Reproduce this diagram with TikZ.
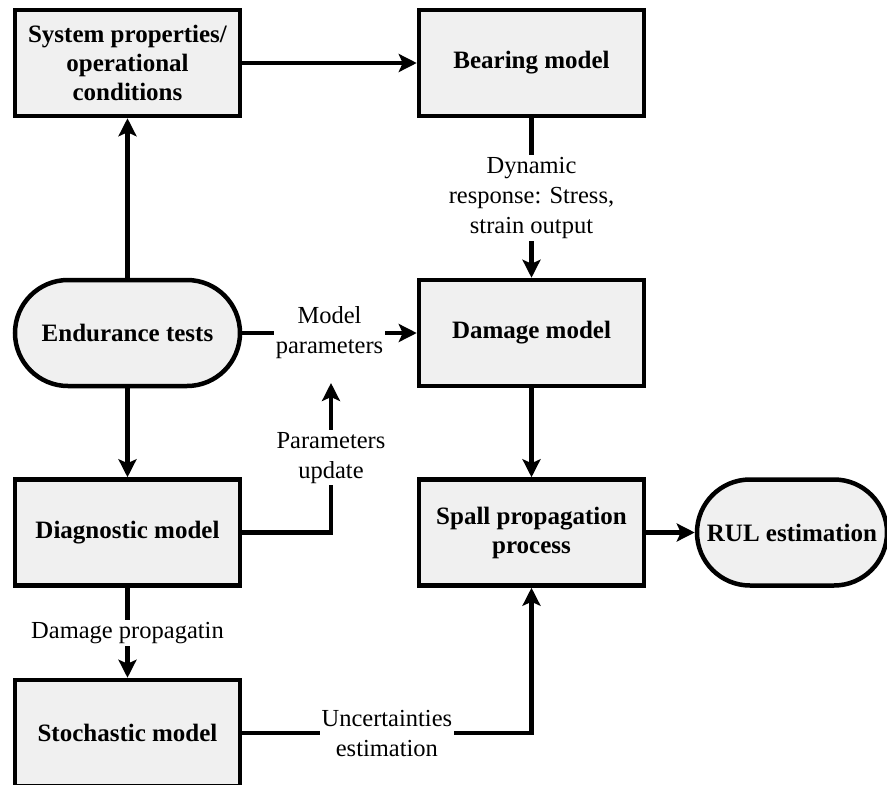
\documentclass[tikz,border=0pt]{standalone}
\usepackage{fontspec}
\setmainfont{Liberation Serif}
\usetikzlibrary{positioning,arrows.meta,calc}

\begin{document}
\begin{tikzpicture}[x=1pt,y=-1pt,>={Stealth[length=18pt,width=18pt,inset=4pt]},
  blk/.style={draw,line width=4.5pt,fill=black!6,minimum width=225pt,minimum height=106pt,align=center,font=\fontsize{25}{29}\selectfont\bfseries},
  term/.style={blk,rounded corners=53pt},
  lbl/.style={fill=white,inner sep=2pt,align=center,font=\fontsize{24.5}{30}\selectfont},
  link/.style={->,line width=4.5pt}]
\path[use as bounding box,fill=white] (0,0) rectangle (887,785);
\node[blk] (sys) at (127.5,63) {System properties/\\operational\\conditions};
\node[blk] (bear) at (531.5,63) {Bearing model};
\node[term] (endu) at (127.5,333) {Endurance tests};
\node[blk] (dmg) at (531.5,333) {Damage model};
\node[blk] (diag) at (127.5,532.5) {Diagnostic model};
\node[blk] (spall) at (531.5,532.5) {Spall propagation\\process};
\node[term,minimum width=190pt] (rul) at (792,532.5) {RUL estimation};
\node[blk] (stoch) at (127.5,733) {Stochastic model};
\coordinate (upd) at (331,383);
\draw[link] (sys) -- (bear);
\draw[link] (endu) -- (sys);
\draw[link] (endu) -- (diag);
\draw[link] (endu) -- node[lbl] (mpar) {Model\\parameters} (dmg);
\draw[link] (bear) -- node[lbl] {Dynamic\\response: Stress,\\strain output} (dmg);
\draw[link] (dmg) -- (spall);
\draw[link] (spall) -- (rul);
\draw[link] (diag) -| node[lbl,pos=0.75] {Parameters\\update} (upd);
\draw[link] (diag) -- node[lbl] {Damage propagatin} (stoch);
\draw[link] (stoch) -| node[lbl,pos=0.25] {Uncertainties\\estimation} (spall);
\end{tikzpicture}
\end{document}
